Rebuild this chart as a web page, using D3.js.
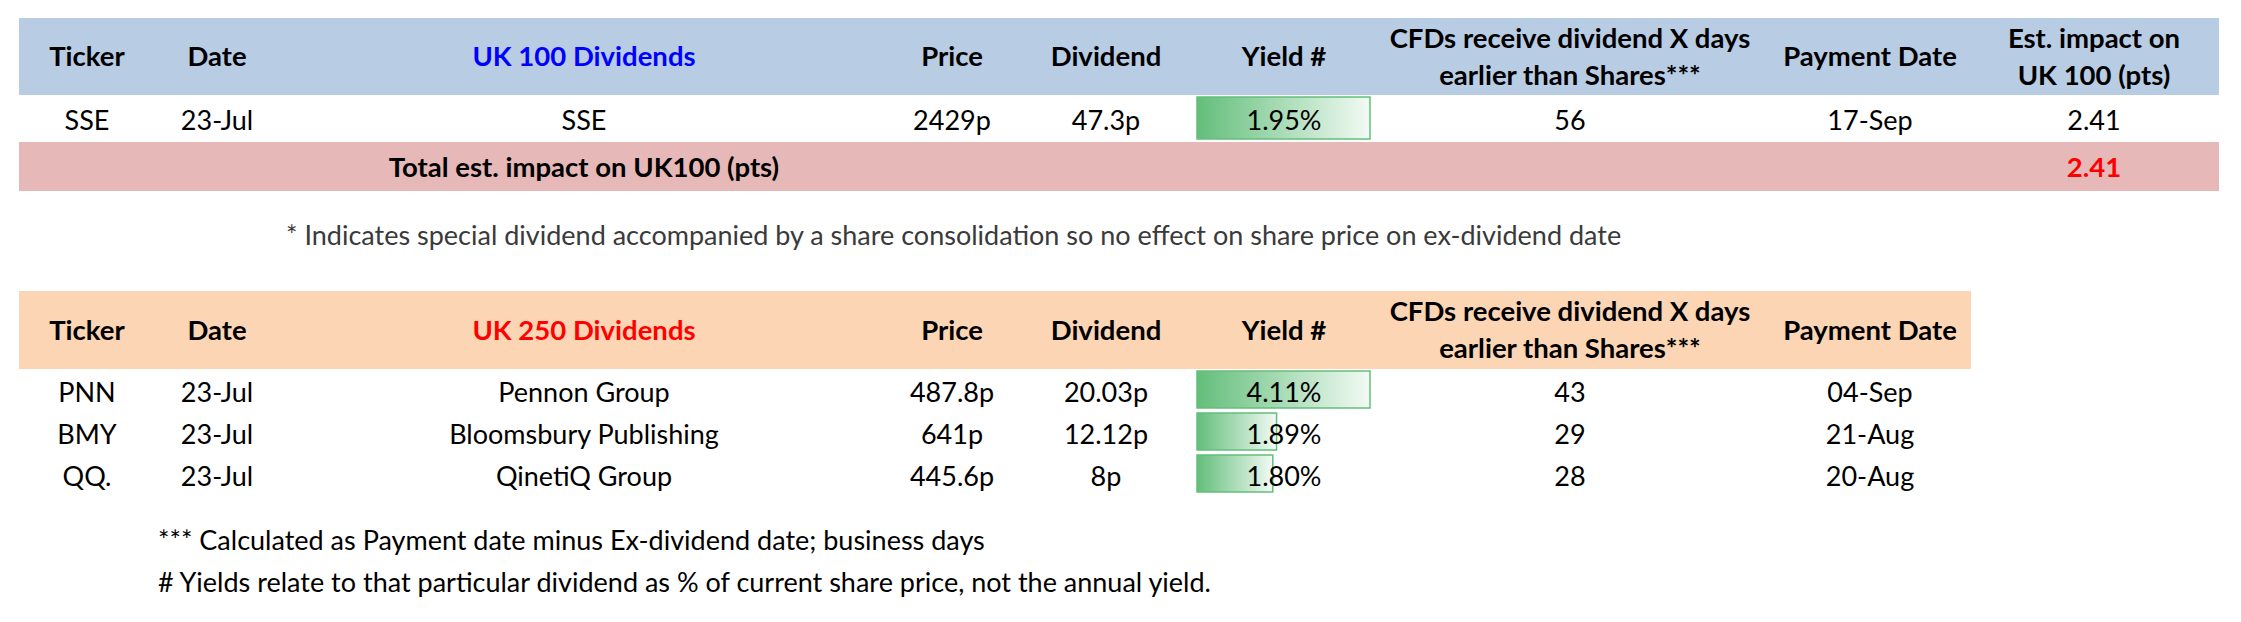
<!DOCTYPE html>
<html lang="en">
<head>
<meta charset="UTF-8">
<title>UK 100 / UK 250 Dividends</title>
<script src="https://d3js.org/d3.v7.min.js"></script>
<style>
    body { margin: 0; background: #fff; }
    svg { display: block; font-family: Lato, 'Open Sans', sans-serif; }
    .hdr { font-weight: bold; font-size: 27.5px; fill: #000; }
    .cell { font-size: 27px; fill: #000; }
    .note { font-size: 27px; }
</style>
</head>
<body>
<svg width="2241" height="622"></svg>
<script>
// ---- data ----
const headers100 = ["Ticker", "Date", "UK 100 Dividends", "Price", "Dividend", "Yield #",
    ["CFDs receive dividend X days", "earlier than Shares***"], "Payment Date",
    ["Est. impact on", "UK 100 (pts)"]];
const headers250 = ["Ticker", "Date", "UK 250 Dividends", "Price", "Dividend", "Yield #",
    ["CFDs receive dividend X days", "earlier than Shares***"], "Payment Date"];

const uk100Tickers = ["SSE"];
const uk100Dates = ["23-Jul"];
const uk100Names = ["SSE"];
const uk100Prices = ["2429p"];
const uk100Dividends = ["47.3p"];
const uk100Yields = [1.95];
const uk100Cfd = [56];
const uk100PayDates = ["17-Sep"];
const uk100Impact = [2.41];
const uk100Total = 2.41;

const uk250Tickers = ["PNN", "BMY", "QQ."];
const uk250Dates = ["23-Jul", "23-Jul", "23-Jul"];
const uk250Names = ["Pennon Group", "Bloomsbury Publishing", "QinetiQ Group"];
const uk250Prices = ["487.8p", "641p", "445.6p"];
const uk250Dividends = ["20.03p", "12.12p", "8p"];
const uk250Yields = [4.11, 1.89, 1.80];
const uk250Cfd = [43, 29, 28];
const uk250PayDates = ["04-Sep", "21-Aug", "20-Aug"];

const notes = [
    "* Indicates special dividend accompanied by a share consolidation so no effect on share price on ex-dividend date",
    "*** Calculated as Payment date minus Ex-dividend date; business days",
    "# Yields relate to that particular dividend as % of current share price, not the annual yield."
];

// ---- layout ----
const svg = d3.select("svg");
const colKeys = ["ticker", "date", "name", "price", "dividend", "yield", "cfd", "pay", "impact"];
const colX = d3.scaleOrdinal()
    .domain(colKeys)
    .range([87, 217, 584, 952, 1106, 1284, 1570, 1870, 2094]);
const yieldCell = { x0: 1197, x1: 1370 };

const grad = svg.append("defs").append("linearGradient").attr("id", "bar-grad");
grad.append("stop").attr("offset", "0%").attr("stop-color", "#63BE7B");
grad.append("stop").attr("offset", "100%").attr("stop-color", "#f2faf4");

function drawHeader(labels, y0, y1, x0, x1, fill, titleColor) {
    svg.append("rect").attr("x", x0).attr("y", y0)
        .attr("width", x1 - x0).attr("height", y1 - y0).attr("fill", fill);
    const cy = (y0 + y1) / 2;
    labels.forEach((lab, i) => {
        const t = svg.append("text").attr("class", "hdr")
            .attr("x", colX(colKeys[i])).attr("text-anchor", "middle");
        if (i === 2) t.style("fill", titleColor);
        if (Array.isArray(lab)) {
            lab.forEach((line, j) => {
                t.append("tspan").attr("x", colX(colKeys[i]))
                    .attr("y", cy + (j === 0 ? -18.5 : 18.5)).attr("dy", "0.36em").text(line);
            });
        } else {
            t.attr("y", cy).attr("dy", "0.36em").text(lab);
        }
    });
}

function drawRows(rows, y0, y1, yields) {
    const y = d3.scaleBand().domain(d3.range(rows.length)).range([y0, y1]);
    const w = d3.scaleLinear().domain([0, d3.max(yields)]).range([0, yieldCell.x1 - yieldCell.x0]);
    rows.forEach((r, i) => {
        svg.append("rect")
            .attr("x", yieldCell.x0).attr("y", y(i) + 2)
            .attr("width", w(yields[i])).attr("height", y.bandwidth() - 5)
            .attr("fill", "url(#bar-grad)")
            .attr("stroke", "#63BE7B").attr("stroke-width", 1.5);
        r.forEach((v, j) => {
            if (v === null) return;
            svg.append("text").attr("class", "cell")
                .attr("x", colX(colKeys[j])).attr("y", y(i) + y.bandwidth() / 2 + 2)
                .attr("dy", "0.36em").attr("text-anchor", "middle").text(v);
        });
    });
}

// ---- UK 100 table ----
drawHeader(headers100, 18, 95, 19, 2219, "#B8CCE4", "#0000FF");
drawRows(uk100Tickers.map((t, i) => [t, uk100Dates[i], uk100Names[i], uk100Prices[i],
    uk100Dividends[i], uk100Yields[i].toFixed(2) + "%", uk100Cfd[i], uk100PayDates[i],
    uk100Impact[i].toFixed(2)]), 95, 142, uk100Yields);

svg.append("rect").attr("x", 19).attr("y", 142).attr("width", 2200).attr("height", 49)
    .attr("fill", "#E6B8B7");
svg.append("text").attr("class", "hdr").attr("x", colX("name")).attr("y", 167)
    .attr("dy", "0.36em").attr("text-anchor", "middle").text("Total est. impact on UK100 (pts)");
svg.append("text").attr("class", "hdr").style("fill", "#FF0000")
    .attr("x", colX("impact")).attr("y", 167).attr("dy", "0.36em")
    .attr("text-anchor", "middle").text(uk100Total.toFixed(2));

svg.append("text").attr("class", "note").attr("fill", "#3a3a3a")
    .attr("x", 286).attr("y", 235).attr("dy", "0.36em").text(notes[0]);

// ---- UK 250 table ----
drawHeader(headers250, 291, 369, 19, 1971, "#FCD5B4", "#FF0000");
drawRows(uk250Tickers.map((t, i) => [t, uk250Dates[i], uk250Names[i], uk250Prices[i],
    uk250Dividends[i], uk250Yields[i].toFixed(2) + "%", uk250Cfd[i], uk250PayDates[i]]),
    369, 495, uk250Yields);

svg.append("text").attr("class", "note").attr("fill", "#000")
    .attr("x", 158).attr("y", 540).attr("dy", "0.36em").text(notes[1]);
svg.append("text").attr("class", "note").attr("fill", "#000")
    .attr("x", 158).attr("y", 582).attr("dy", "0.36em").text(notes[2]);
</script>
</body>
</html>
